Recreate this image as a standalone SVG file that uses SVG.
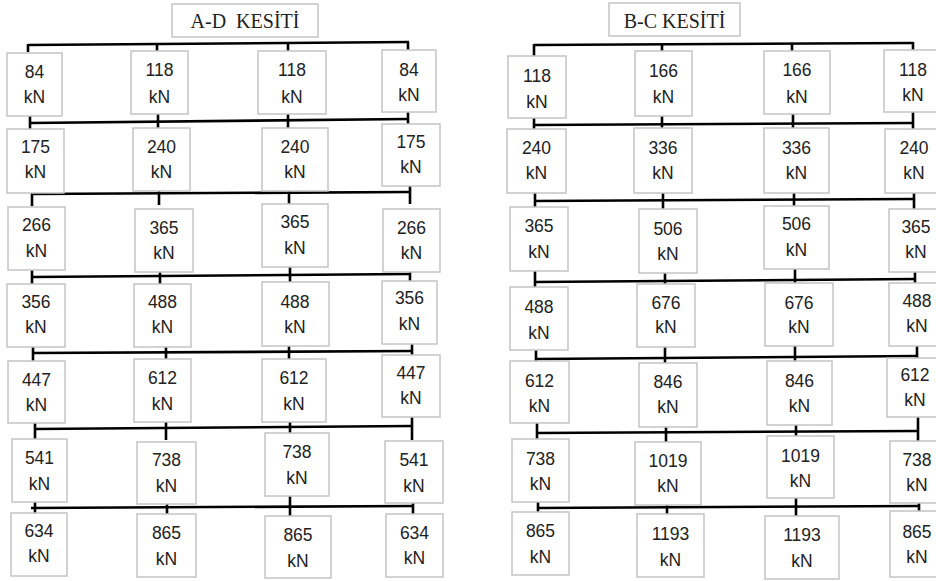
<svg xmlns="http://www.w3.org/2000/svg" width="936" height="581" viewBox="0 0 936 581">
<style>
.b{fill:#fff;stroke:#c4c4c4;stroke-width:1.5}
.t{font-family:"Liberation Sans",Arial,sans-serif;font-size:17.5px;fill:#222;text-anchor:middle}
.h{font-family:"Liberation Serif","Times New Roman",serif;font-size:20px;fill:#222;text-anchor:middle}
.c{stroke:#000;stroke-width:2.6;fill:none}
</style>
<rect width="936" height="581" fill="#fff"/>
<g id="connectors" class="c">
<path d="M28 45L409 42M30 123L408 119M32 194L410 192M32 277L410 274M33 353L413 351M35 429L412 426M31 508L413 506"/>
<path d="M28 44V52M157 43V51M288 43V51M408 42V50"/>
<path d="M30 111V135M158 110V134M288 109V133M408 107V131"/>
<path d="M32 182V206M159 181V205M289 181V205M410 180V204"/>
<path d="M32 265V289M160 264V288M290 263V287M410 262V286"/>
<path d="M33 341V365M166 340V364M289 340V364M412 339V363"/>
<path d="M35 417V441M166 416V440M290 415V439M412 413V440"/>
<path d="M35 496V520M167 495V519M290 495V519M413 494V518"/>
<path d="M534 45L913 43M534 125L913 123M534 201L914 199M534 282L915 279M536 359L917 356M537 433L918 431M537 508L919 506"/>
<path d="M534 44V56M662 44V51M792 43V51M913 42V50"/>
<path d="M534 113V137M662 112V136M793 111V135M913 111V135"/>
<path d="M535 189V213M663 188V212M794 187V211M914 187V211"/>
<path d="M535 270V294M665 269V293M795 268V292M915 267V291"/>
<path d="M536 347V371M665 346V370M795 345V369M917 344V368"/>
<path d="M537 421V445M666 420V444M796 420V444M918 417V443"/>
<path d="M538 496V520M667 495V519M796 495V519M919 494V518"/>
</g>
<g id="title-ad"><rect class="b" x="172" y="4" width="146" height="33"/><text class="h" x="245" y="28">A-D&#160; KESİTİ</text></g>
<g id="title-bc"><rect class="b" x="609" y="3" width="131" height="33"/><text class="h" x="674.5" y="28">B-C KESİTİ</text></g>

<g id="L11"><rect class="b" x="7" y="53" width="55" height="63"/><text class="t" x="34.5" y="78">84</text><text class="t" x="34.5" y="103">kN</text></g>
<g id="L12"><rect class="b" x="131" y="51" width="57" height="63"/><text class="t" x="159.5" y="76">118</text><text class="t" x="159.5" y="103">kN</text></g>
<g id="L13"><rect class="b" x="258" y="51" width="68" height="63"/><text class="t" x="292" y="76">118</text><text class="t" x="292" y="103">kN</text></g>
<g id="L14"><rect class="b" x="382" y="50" width="54" height="62"/><text class="t" x="409" y="76">84</text><text class="t" x="409" y="101">kN</text></g>

<g id="L21"><rect class="b" x="7" y="129" width="57" height="64"/><text class="t" x="35.5" y="153">175</text><text class="t" x="35.5" y="178">kN</text></g>
<g id="L22"><rect class="b" x="133" y="128" width="57" height="63"/><text class="t" x="161.5" y="153">240</text><text class="t" x="161.5" y="178">kN</text></g>
<g id="L23"><rect class="b" x="262" y="128" width="66" height="63"/><text class="t" x="295" y="153">240</text><text class="t" x="295" y="178">kN</text></g>
<g id="L24"><rect class="b" x="382" y="124" width="58" height="62"/><text class="t" x="411" y="148">175</text><text class="t" x="411" y="173">kN</text></g>

<g id="L31"><rect class="b" x="8" y="207" width="57" height="63"/><text class="t" x="36.5" y="231">266</text><text class="t" x="36.5" y="257">kN</text></g>
<g id="L32"><rect class="b" x="135" y="209" width="58" height="63"/><text class="t" x="164" y="234">365</text><text class="t" x="164" y="259">kN</text></g>
<g id="L33"><rect class="b" x="262" y="204" width="66" height="63"/><text class="t" x="295" y="228">365</text><text class="t" x="295" y="254">kN</text></g>
<g id="L34"><rect class="b" x="383" y="209" width="57" height="63"/><text class="t" x="411.5" y="234">266</text><text class="t" x="411.5" y="259">kN</text></g>

<g id="L41"><rect class="b" x="7" y="284" width="58" height="63"/><text class="t" x="36" y="308">356</text><text class="t" x="36" y="333">kN</text></g>
<g id="L42"><rect class="b" x="134" y="284" width="57" height="63"/><text class="t" x="162.5" y="308">488</text><text class="t" x="162.5" y="333">kN</text></g>
<g id="L43"><rect class="b" x="262" y="282" width="67" height="64"/><text class="t" x="295" y="308">488</text><text class="t" x="295" y="333">kN</text></g>
<g id="L44"><rect class="b" x="382" y="281" width="55" height="63"/><text class="t" x="409.5" y="304">356</text><text class="t" x="409.5" y="330">kN</text></g>

<g id="L51"><rect class="b" x="8" y="361" width="57" height="62"/><text class="t" x="36.5" y="386">447</text><text class="t" x="36.5" y="411">kN</text></g>
<g id="L52"><rect class="b" x="134" y="359" width="57" height="63"/><text class="t" x="162.5" y="384">612</text><text class="t" x="162.5" y="410">kN</text></g>
<g id="L53"><rect class="b" x="262" y="359" width="64" height="63"/><text class="t" x="294" y="384">612</text><text class="t" x="294" y="410">kN</text></g>
<g id="L54"><rect class="b" x="382" y="355" width="58" height="62"/><text class="t" x="411" y="379">447</text><text class="t" x="411" y="404">kN</text></g>

<g id="L61"><rect class="b" x="12" y="439" width="55" height="63"/><text class="t" x="39.5" y="464">541</text><text class="t" x="39.5" y="490">kN</text></g>
<g id="L62"><rect class="b" x="137" y="442" width="59" height="62"/><text class="t" x="166.5" y="466">738</text><text class="t" x="166.5" y="492">kN</text></g>
<g id="L63"><rect class="b" x="265" y="433" width="64" height="63"/><text class="t" x="297" y="458">738</text><text class="t" x="297" y="484">kN</text></g>
<g id="L64"><rect class="b" x="385" y="441" width="58" height="62"/><text class="t" x="414" y="466">541</text><text class="t" x="414" y="492">kN</text></g>

<g id="L71"><rect class="b" x="11" y="513" width="56" height="63"/><text class="t" x="39" y="537">634</text><text class="t" x="39" y="562">kN</text></g>
<g id="L72"><rect class="b" x="137" y="514" width="59" height="63"/><text class="t" x="166.5" y="539">865</text><text class="t" x="166.5" y="565">kN</text></g>
<g id="L73"><rect class="b" x="265" y="516" width="66" height="62"/><text class="t" x="298" y="541">865</text><text class="t" x="298" y="567">kN</text></g>
<g id="L74"><rect class="b" x="386" y="514" width="57" height="63"/><text class="t" x="414.5" y="539">634</text><text class="t" x="414.5" y="564">kN</text></g>

<g id="R11"><rect class="b" x="508" y="56" width="58" height="62"/><text class="t" x="537" y="82">118</text><text class="t" x="537" y="108">kN</text></g>
<g id="R12"><rect class="b" x="635" y="51" width="57" height="65"/><text class="t" x="663.5" y="77">166</text><text class="t" x="663.5" y="103">kN</text></g>
<g id="R13"><rect class="b" x="764" y="51" width="66" height="63"/><text class="t" x="797" y="76">166</text><text class="t" x="797" y="103">kN</text></g>
<g id="R14"><rect class="b" x="884" y="50" width="58" height="62"/><text class="t" x="913" y="76">118</text><text class="t" x="913" y="101">kN</text></g>

<g id="R21"><rect class="b" x="507" y="129" width="59" height="64"/><text class="t" x="536.5" y="154">240</text><text class="t" x="536.5" y="179">kN</text></g>
<g id="R22"><rect class="b" x="634" y="128" width="58" height="65"/><text class="t" x="663" y="154">336</text><text class="t" x="663" y="179">kN</text></g>
<g id="R23"><rect class="b" x="764" y="128" width="65" height="65"/><text class="t" x="796.5" y="154">336</text><text class="t" x="796.5" y="179">kN</text></g>
<g id="R24"><rect class="b" x="885" y="129" width="58" height="64"/><text class="t" x="914" y="154">240</text><text class="t" x="914" y="179">kN</text></g>

<g id="R31"><rect class="b" x="510" y="207" width="58" height="64"/><text class="t" x="539" y="232">365</text><text class="t" x="539" y="258">kN</text></g>
<g id="R32"><rect class="b" x="639" y="209" width="58" height="64"/><text class="t" x="668" y="235">506</text><text class="t" x="668" y="260">kN</text></g>
<g id="R33"><rect class="b" x="764" y="206" width="65" height="63"/><text class="t" x="796.5" y="230">506</text><text class="t" x="796.5" y="256">kN</text></g>
<g id="R34"><rect class="b" x="889" y="209" width="58" height="63"/><text class="t" x="916" y="233">365</text><text class="t" x="916" y="258">kN</text></g>

<g id="R41"><rect class="b" x="510" y="287" width="58" height="63"/><text class="t" x="539" y="313">488</text><text class="t" x="539" y="339">kN</text></g>
<g id="R42"><rect class="b" x="637" y="284" width="58" height="63"/><text class="t" x="666" y="309">676</text><text class="t" x="666" y="333">kN</text></g>
<g id="R43"><rect class="b" x="765" y="283" width="68" height="63"/><text class="t" x="799" y="309">676</text><text class="t" x="799" y="333">kN</text></g>
<g id="R44"><rect class="b" x="889" y="283" width="58" height="63"/><text class="t" x="917" y="307">488</text><text class="t" x="917" y="332">kN</text></g>

<g id="R51"><rect class="b" x="510" y="361" width="59" height="62"/><text class="t" x="539.5" y="387">612</text><text class="t" x="539.5" y="412">kN</text></g>
<g id="R52"><rect class="b" x="639" y="363" width="58" height="64"/><text class="t" x="668" y="388">846</text><text class="t" x="668" y="413">kN</text></g>
<g id="R53"><rect class="b" x="767" y="361" width="65" height="64"/><text class="t" x="799.5" y="387">846</text><text class="t" x="799.5" y="412">kN</text></g>
<g id="R54"><rect class="b" x="887" y="358" width="58" height="59"/><text class="t" x="915" y="381">612</text><text class="t" x="915" y="406">kN</text></g>

<g id="R61"><rect class="b" x="512" y="439" width="57" height="63"/><text class="t" x="540.5" y="465">738</text><text class="t" x="540.5" y="490">kN</text></g>
<g id="R62"><rect class="b" x="635" y="442" width="66" height="63"/><text class="t" x="668" y="467">1019</text><text class="t" x="668" y="492">kN</text></g>
<g id="R63"><rect class="b" x="767" y="436" width="67" height="62"/><text class="t" x="800.5" y="462">1019</text><text class="t" x="800.5" y="487">kN</text></g>
<g id="R64"><rect class="b" x="890" y="441" width="58" height="62"/><text class="t" x="917" y="466">738</text><text class="t" x="917" y="491">kN</text></g>

<g id="R71"><rect class="b" x="512" y="512" width="57" height="63"/><text class="t" x="540.5" y="537">865</text><text class="t" x="540.5" y="563">kN</text></g>
<g id="R72"><rect class="b" x="637" y="514" width="67" height="63"/><text class="t" x="670.5" y="540">1193</text><text class="t" x="670.5" y="566">kN</text></g>
<g id="R73"><rect class="b" x="765" y="516" width="74" height="63"/><text class="t" x="802" y="541">1193</text><text class="t" x="802" y="567">kN</text></g>
<g id="R74"><rect class="b" x="890" y="511" width="58" height="66"/><text class="t" x="917" y="538">865</text><text class="t" x="917" y="563">kN</text></g>
</svg>
